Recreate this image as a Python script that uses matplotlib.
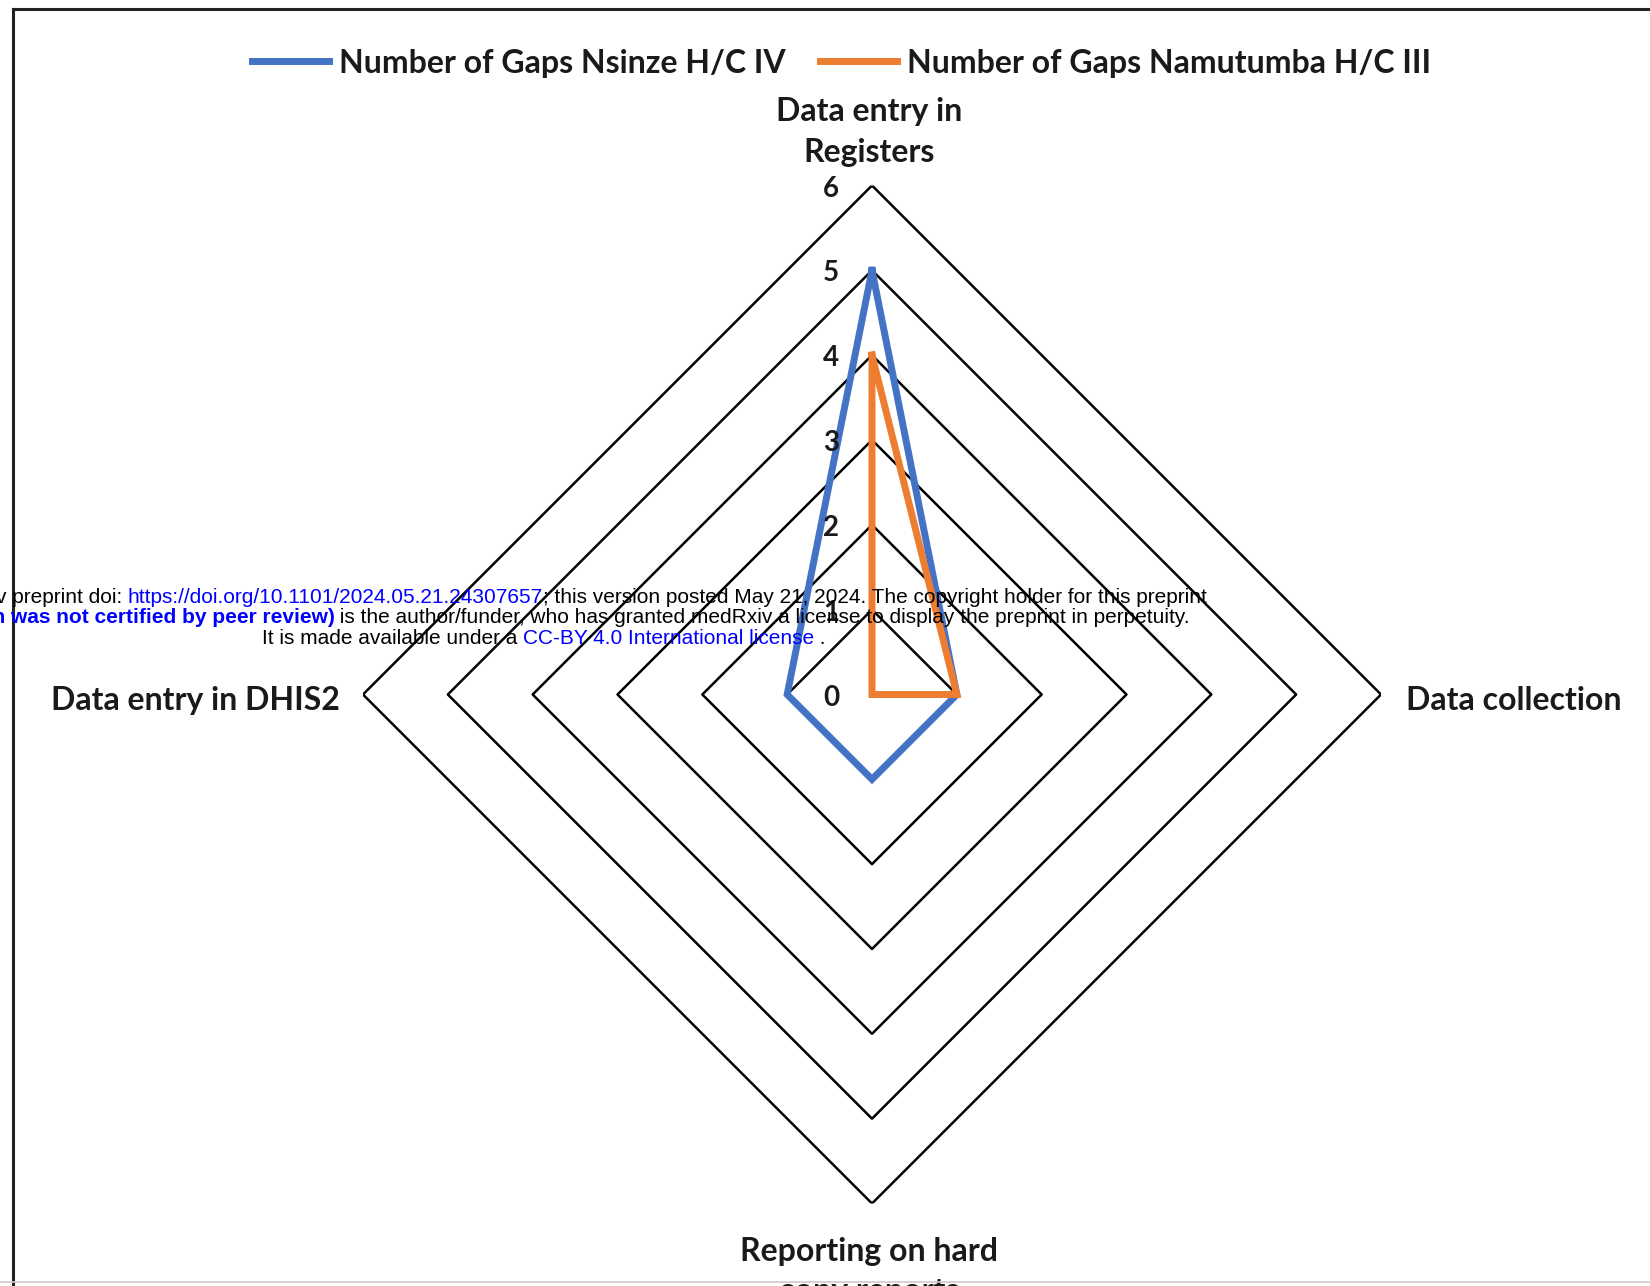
import matplotlib.pyplot as plt
import numpy as np
from matplotlib.lines import Line2D

# data
categories = ["Data entry in\nRegisters", "Data collection",
              "Reporting on hard\ncopy reports", "Data entry in DHIS2"]
nsinze = [5, 1, 1, 1]
namutumba = [4, 1, 0, 0]
series_names = ["Number of Gaps Nsinze H/C IV", "Number of Gaps Namutumba H/C III"]
rings = [1, 2, 3, 4, 5, 6]
tick_labels = ["0", "1", "2", "3", "4", "5", "6"]

blue = "#4472C4"
orange = "#ED7D31"
lab_font = "Lato"
ink = "#1a1a1a"

W, H = 1650, 1286
fig = plt.figure(figsize=(W / 100, H / 100), dpi=100)
ax = fig.add_axes([363 / W, 82.5 / H, 1018 / W, 1018 / H], projection="polar")
ax.set_theta_offset(np.pi / 2)
ax.set_theta_direction(-1)
ax.set_ylim(0, 6)
ax.grid(False)
ax.spines["polar"].set_visible(False)
ax.set_xticks([])
ax.set_yticks([])
ax.patch.set_alpha(0)

angles = np.linspace(0, 2 * np.pi, len(categories), endpoint=False)
closed = np.append(angles, angles[0])

# diamond rings
for r in rings:
    ax.plot(closed, [r] * len(closed), color="black", lw=1.8, zorder=1)

ax.plot(closed, nsinze + nsinze[:1], color=blue, lw=5, zorder=3, solid_joinstyle="miter")
ax.plot(closed, namutumba + namutumba[:1], color=orange, lw=5, zorder=4, solid_joinstyle="miter")

# radial value labels
for i, t in enumerate(tick_labels):
    ax.annotate(t, xy=(0, i), xytext=(-41, -3), textcoords="offset pixels",
                ha="center", va="center", fontsize=20, fontweight="bold",
                family=lab_font, color=ink, zorder=5)

# category labels
lab_kw = dict(fontsize=23, fontweight="bold", family=lab_font, color=ink,
              linespacing=1.5, zorder=5)
ax.annotate(categories[0], xy=(angles[0], 6), xytext=(-3, 54), textcoords="offset pixels",
            ha="center", va="center", **lab_kw)
ax.annotate(categories[1], xy=(angles[1], 6), xytext=(25, -6), textcoords="offset pixels",
            ha="left", va="center", **lab_kw)
ax.annotate(categories[2], xy=(angles[2], 6), xytext=(-3, -33), textcoords="offset pixels",
            ha="center", va="top", annotation_clip=False, **lab_kw)
ax.annotate(categories[3], xy=(angles[3], 6), xytext=(-23, -6), textcoords="offset pixels",
            ha="right", va="center", **lab_kw)

# legend
handles = [Line2D([], [], color=blue, lw=5), Line2D([], [], color=orange, lw=5)]
leg = fig.legend(handles, series_names, loc="center", bbox_to_anchor=(0.51, 1 - 63 / H),
                 ncol=2, frameon=False, handlelength=2.4, handletextpad=0.3,
                 columnspacing=1.1, prop={"family": lab_font, "weight": "bold", "size": 23})
for t in leg.get_texts():
    t.set_color(ink)

# frame around the figure (left and top edges visible)
fig.add_artist(Line2D([13 / W, 13 / W], [0, 1 - 9 / H], color="#222222", lw=2.2))
fig.add_artist(Line2D([13 / W, 1], [1 - 9 / H, 1 - 9 / H], color="#222222", lw=2.2))
fig.add_artist(Line2D([0, 1], [4 / H, 4 / H], color="#cccccc", lw=1.2))

# medRxiv watermark overlay
wm_lines = [
    (1207, 597, [("medRxiv preprint doi: ", "black", "normal"),
                 ("https://doi.org/10.1101/2024.05.21.24307657", "blue", "normal"),
                 ("; this version posted May 21, 2024. The copyright holder for this preprint",
                  "black", "normal")]),
    (1190, 618, [("(which was not certified by peer review)", "blue", "bold"),
                 (" is the author/funder, who has granted medRxiv a license to display the preprint in perpetuity.",
                  "black", "normal")]),
    (826, 639, [("It is made available under a ", "black", "normal"),
                ("CC-BY 4.0 International license", "blue", "normal"),
                (" .", "black", "normal")]),
]
renderer = fig.canvas.get_renderer()
for x_end, y, segs in wm_lines:
    texts = [fig.text(0, 1 - y / H, s, color=c, fontweight=w, fontsize=15,
                      family="Liberation Sans", va="center", ha="left", zorder=10)
             for s, c, w in segs]
    widths = [t.get_window_extent(renderer).width for t in texts]
    x = x_end - sum(widths)
    for t, w in zip(texts, widths):
        t.set_x(x / W)
        x += w

fig.savefig("out.png", dpi=100)
